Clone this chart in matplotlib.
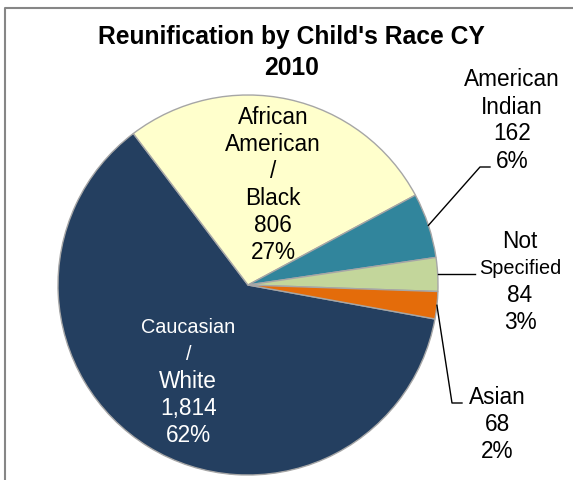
import matplotlib
matplotlib.use("Agg")
import matplotlib.pyplot as plt
import numpy as np

plt.rcParams["font.family"] = ["Liberation Sans", "DejaVu Sans"]

# data (order as drawn clockwise, starting at the Asian/Caucasian boundary)
races = ["Caucasian / White", "African American / Black", "American Indian",
         "Not Specified", "Asian"]
counts = [1814, 806, 162, 84, 68]
colors = ["#243F60", "#FFFFCC", "#31859C", "#C3D69B", "#E46C0A"]

W, H = 573, 481
fig = plt.figure(figsize=(W / 100, H / 100), dpi=100)
ax = fig.add_axes([0, 0, 1, 1])
ax.set_xlim(0, W)
ax.set_ylim(0, H)
ax.set_aspect("equal")
ax.axis("off")

cx, cy, R = 248, H - 286, 190

wedges, _ = ax.pie(counts, colors=colors, startangle=-10.3, counterclock=False,
                   center=(cx, cy), radius=R, frame=True,
                   wedgeprops=dict(edgecolor="#A6A6A6", linewidth=1.0))
ax.set_xlim(0, W)
ax.set_ylim(0, H)
ax.axis("off")

total = sum(counts)


def mid_angle(w):
    return np.deg2rad((w.theta1 + w.theta2) / 2)


def label_lines(i):
    pct = "{:.0f}%".format(100 * counts[i] / total)
    return "{:,}".format(counts[i]), pct


BIG, SMALL = 16.3, 14.3
STEP = 27


def draw_block(lines, xc, ytop_center, color="black"):
    n = len(lines)
    for k, (txt, size) in enumerate(lines):
        y = ytop_center + (k - (n - 1) / 2) * STEP
        ax.text(xc, H - y, txt, ha="center", va="center", fontsize=size,
                color=color)


# inside labels, positioned along slice mid angle
n0, p0 = label_lines(0)
a = mid_angle(wedges[0])
draw_block([("Caucasian", SMALL), ("/", SMALL), ("White", BIG), (n0, BIG), (p0, BIG)],
           cx + 0.58 * R * np.cos(a) - 2, H - (cy + 0.58 * R * np.sin(a)) + 2, color="white")

n1, p1 = label_lines(1)
a = mid_angle(wedges[1])
draw_block([("African", BIG), ("American", BIG), ("/", BIG), ("Black", BIG), (n1, BIG), (p1, BIG)],
           cx + 0.54 * R * np.cos(a) + 3, H - (cy + 0.54 * R * np.sin(a)) - 1)

# outside labels with leader lines
n2, p2 = label_lines(2)
draw_block([("American", BIG), ("Indian", BIG), (n2, BIG), (p2, BIG)], 512, 120.5)
n3, p3 = label_lines(3)
draw_block([("Not", BIG), ("Specified", SMALL), (n3, BIG), (p3, BIG)], 520, 282)
n4, p4 = label_lines(4)
draw_block([("Asian", BIG), (n4, BIG), (p4, BIG)], 497, 425)

leader_ends = {
    2: [(480, H - 168), (490, H - 168)],
    3: [(475, H - 274)],
    4: [(452, H - 404), (462, H - 404)],
}
for i, pts in leader_ends.items():
    a = mid_angle(wedges[i])
    x0, y0 = cx + R * np.cos(a), cy + R * np.sin(a)
    if i == 3:
        pts = [(pts[0][0], y0)]
    xs = [x0] + [p[0] for p in pts]
    ys = [y0] + [p[1] for p in pts]
    ax.plot(xs, ys, color="black", linewidth=1.0)

# title
ax.text(291, H - 37, "Reunification by Child's Race CY", ha="center", va="center",
        fontsize=17.7, fontweight="bold")
ax.text(292, H - 68, "2010", ha="center", va="center", fontsize=17.7,
        fontweight="bold")

# chart frame (only top and left are in view)
ax.plot([4.5, 4.5, W], [0, H - 9, H - 9], color="#868686", linewidth=1.5,
        clip_on=False)

fig.savefig("out.png", dpi=100)
